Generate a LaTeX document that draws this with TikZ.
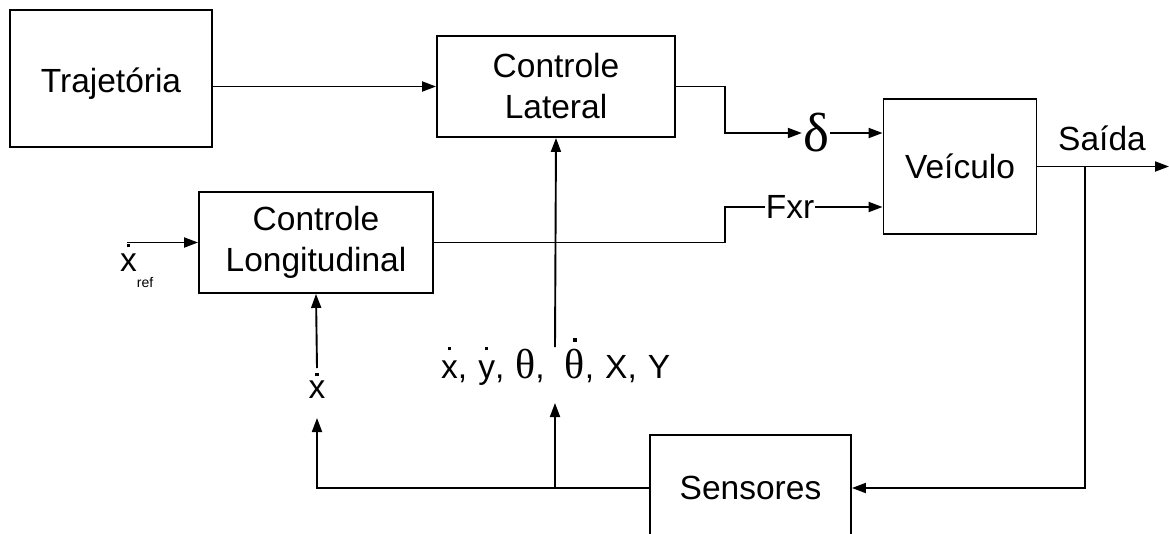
\documentclass[tikz,border=0pt]{standalone}
\usepackage{fontspec}
\setmainfont{Liberation Sans}
\newfontfamily\serifg{Liberation Serif}
\usetikzlibrary{arrows.meta}
% a dot set over a glyph, with the given gap between them
\newcommand\dotover[2][6pt]{\leavevmode\vbox{\offinterlineskip\halign{\hfil##\hfil\cr\rule{3.6pt}{3.6pt}\cr\noalign{\kern#1}#2\cr}}}
\newcommand\thetabig{{\serifg\fontsize{42}{42}\selectfont θ}}
\begin{document}
\begin{tikzpicture}[x=1pt,y=-1pt,
  box/.style={draw, line width=1.9pt, align=center, font=\fontsize{33.5}{41}\selectfont, inner sep=0pt},
  lbl/.style={font=\fontsize{33.5}{41}\selectfont, inner sep=1pt},
  wire/.style={line width=1.9pt},
  arr/.style={wire, -{Triangle[length=14pt,width=10pt]}}]
\useasboundingbox (0,0) rectangle (1169,533);
% blocks
\node[box, minimum width=202pt, minimum height=137pt, text height=35pt, text depth=7pt] (traj) at (111,78.5) {Trajetória};
\node[box, minimum width=238pt, minimum height=101pt] (lat) at (556,86.5) {Controle\\Lateral};
\node[box, minimum width=234pt, minimum height=101pt] (long) at (316,242.5) {Controle\\Longitudinal};
\node[box, minimum width=153pt, minimum height=135pt] (veh) at (960,166.5) {Veículo};
\node[box, minimum width=201pt, minimum height=106pt] (sens) at (750.5,488) {Sensores};
% labels
\node[inner sep=1pt, font=\serifg\fontsize{55}{55}\selectfont] (delta) at (816,133) {δ};
\node[lbl] (fxr) at (790,207) {Fxr};
\node[lbl] (saida) at (1102,138) {Saída};
\node[lbl, anchor=base west, inner sep=0pt] (xref) at (120,271) {\dotover[6pt]{x}\raisebox{-16pt}{\fontsize{14}{14}\selectfont ref}};
\node[lbl, anchor=base, inner sep=0pt] (xd) at (317,398) {\dotover[4pt]{x}};
\node[lbl, anchor=base west, inner sep=0pt] (st) at (441,378) {\spaceskip=11pt\relax\dotover[10pt]{x}, \dotover[10pt]{y}, \thetabig,\hspace{20pt}\dotover[7pt]{\thetabig}, X, Y};
% coordinates
\coordinate (xin) at (127,242.5);
\coordinate (xdtop) at (317,368);
\coordinate (xdbot) at (317,418);
\coordinate (s1) at (555,347);
\coordinate (s2) at (555,403);
\coordinate (j) at (555,488);
\coordinate (br) at (1085,166.5);
\coordinate (outend) at (1169,166.5);
% connectors
\draw[arr] (traj.east |- lat.west) -- (lat.west);
\draw[arr] (lat.east) -- ++(49,0) |- (delta.west);
\draw[arr] (delta.east) -- (veh.west |- delta.east);
\draw[wire] (long.east) -- ++(291,0) |- (fxr.west);
\draw[arr] (fxr.east) -- (veh.west |- fxr.east);
\draw[arr] (xin) -- (long.west);
\draw[arr] (veh.east) -- (outend);
\draw[arr] (br) |- (sens.east);
\draw[arr] (sens.west) -| (xdbot);
\draw[arr] (xdtop) -- (long.south);
\draw[arr] (j) -- (s2);
\draw[arr] (s1) -- (lat.south);
\end{tikzpicture}
\end{document}
